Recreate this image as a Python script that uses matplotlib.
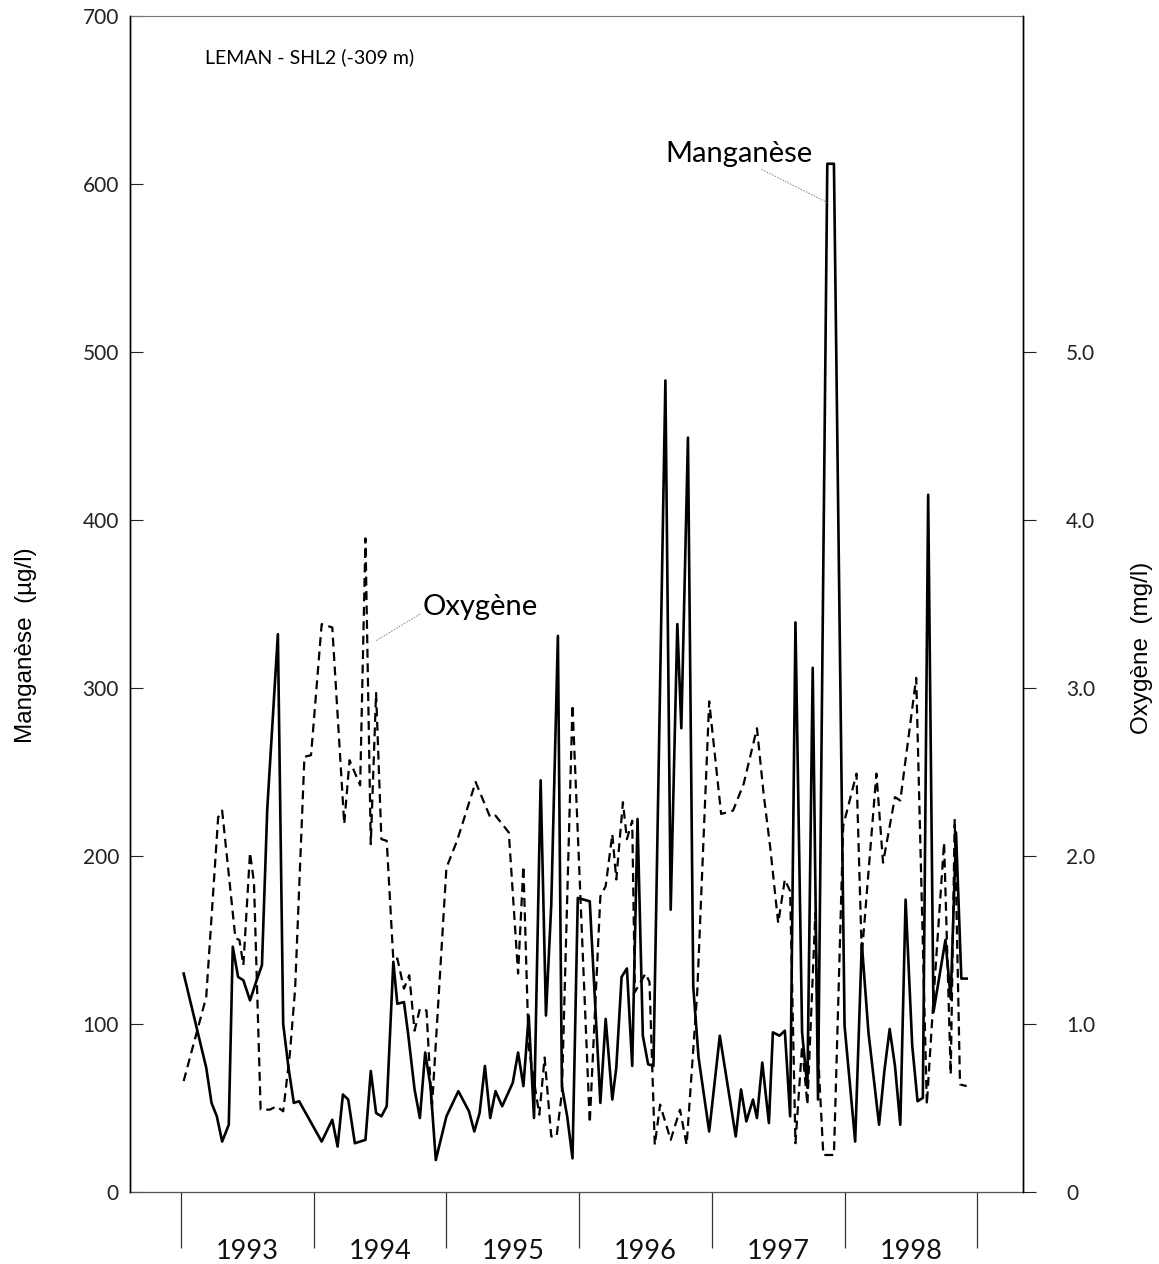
import matplotlib
matplotlib.use("Agg")
import matplotlib.pyplot as plt
import numpy as np

plt.rcParams['font.family'] = ['Lato', 'DejaVu Sans']

# Manganese (ug/l), sampling dates in decimal years
mn_time = [1993.02, 1993.19, 1993.23, 1993.27, 1993.31, 1993.36, 1993.39, 1993.43,
           1993.47, 1993.52, 1993.57, 1993.61, 1993.65, 1993.73, 1993.77, 1993.81,
           1993.85, 1993.89, 1994.06, 1994.14, 1994.18, 1994.22, 1994.26, 1994.31,
           1994.39, 1994.43, 1994.47, 1994.51, 1994.55, 1994.60, 1994.63, 1994.68,
           1994.71, 1994.76, 1994.80, 1994.84, 1994.88, 1994.92, 1995.00, 1995.09,
           1995.17, 1995.21, 1995.25, 1995.29, 1995.33, 1995.37, 1995.42, 1995.50,
           1995.54, 1995.58, 1995.62, 1995.66, 1995.71, 1995.75, 1995.79, 1995.84,
           1995.87, 1995.91, 1995.95, 1995.99, 1996.08, 1996.16, 1996.20, 1996.25,
           1996.28, 1996.32, 1996.36, 1996.40, 1996.44, 1996.48, 1996.52, 1996.56,
           1996.65, 1996.69, 1996.74, 1996.77, 1996.82, 1996.86, 1996.90, 1996.98,
           1997.06, 1997.18, 1997.22, 1997.26, 1997.31, 1997.34, 1997.38, 1997.43,
           1997.46, 1997.51, 1997.55, 1997.59, 1997.63, 1997.68, 1997.72, 1997.76,
           1997.80, 1997.87, 1997.92, 1998.00, 1998.08, 1998.13, 1998.18, 1998.26,
           1998.30, 1998.34, 1998.38, 1998.42, 1998.46, 1998.51, 1998.55, 1998.59,
           1998.63, 1998.67, 1998.76, 1998.80, 1998.84, 1998.88, 1998.92]
mn_value = [130, 74, 53, 45, 30, 40, 146, 128,
            126, 114, 126, 135, 228, 332, 100, 74,
            53, 54, 30, 43, 27, 58, 55, 29,
            31, 72, 47, 45, 51, 137, 112, 113,
            95, 61, 44, 83, 63, 19, 45, 60,
            48, 36, 47, 75, 44, 60, 51, 65,
            83, 63, 105, 44, 245, 105, 171, 331,
            63, 45, 20, 175, 173, 53, 103, 55,
            74, 128, 133, 75, 222, 93, 76, 75,
            483, 168, 338, 276, 449, 122, 80, 36,
            93, 33, 61, 42, 55, 44, 77, 41,
            95, 93, 96, 45, 339, 95, 62, 312,
            55, 612, 612, 99, 30, 148, 95, 40,
            72, 97, 75, 40, 174, 87, 54, 56,
            415, 107, 150, 115, 214, 127, 127]

# Oxygen (mg/l)
ox_time = [1993.02, 1993.19, 1993.28, 1993.31, 1993.41, 1993.44, 1993.47, 1993.52,
           1993.55, 1993.60, 1993.67, 1993.72, 1993.77, 1993.82, 1993.86, 1993.93,
           1993.98, 1994.06, 1994.14, 1994.23, 1994.27, 1994.35, 1994.39, 1994.43,
           1994.47, 1994.51, 1994.55, 1994.60, 1994.63, 1994.68, 1994.72, 1994.76,
           1994.80, 1994.85, 1994.89, 1995.00, 1995.08, 1995.22, 1995.33, 1995.37,
           1995.47, 1995.54, 1995.58, 1995.62, 1995.70, 1995.74, 1995.79, 1995.83,
           1995.87, 1995.95, 1996.08, 1996.16, 1996.20, 1996.25, 1996.28, 1996.33,
           1996.36, 1996.40, 1996.42, 1996.50, 1996.53, 1996.57, 1996.61, 1996.69,
           1996.76, 1996.81, 1996.89, 1996.98, 1997.07, 1997.16, 1997.24, 1997.34,
           1997.39, 1997.44, 1997.50, 1997.55, 1997.59, 1997.63, 1997.68, 1997.72,
           1997.78, 1997.80, 1997.84, 1997.92, 1997.99, 1998.09, 1998.13, 1998.24,
           1998.29, 1998.38, 1998.42, 1998.54, 1998.62, 1998.67, 1998.75, 1998.80,
           1998.83, 1998.87, 1998.92]
ox_value = [0.66, 1.16, 2.23, 2.27, 1.51, 1.50, 1.35, 2.02,
            1.84, 0.49, 0.49, 0.51, 0.48, 0.82, 1.21, 2.59,
            2.60, 3.38, 3.36, 2.19, 2.57, 2.42, 3.89, 2.07,
            2.97, 2.10, 2.09, 1.38, 1.39, 1.21, 1.29, 0.96,
            1.09, 1.08, 0.49, 1.93, 2.09, 2.44, 2.23, 2.24,
            2.14, 1.30, 1.94, 0.86, 0.46, 0.80, 0.33, 0.33,
            0.59, 2.90, 0.41, 1.76, 1.82, 2.13, 1.86, 2.32,
            2.10, 2.21, 1.19, 1.30, 1.25, 0.28, 0.52, 0.31,
            0.49, 0.28, 1.19, 2.92, 2.25, 2.27, 2.43, 2.76,
            2.37, 2.05, 1.60, 1.86, 1.79, 0.29, 0.87, 0.52,
            1.66, 0.83, 0.22, 0.22, 2.18, 2.49, 1.41, 2.49,
            1.96, 2.35, 2.33, 3.06, 0.52, 1.15, 2.08, 0.70,
            2.22, 0.64, 0.63]

years = [1993, 1994, 1995, 1996, 1997, 1998]
mn_ticks = [0, 100, 200, 300, 400, 500, 600, 700]
ox_ticks = [0, 1, 2, 3, 4, 5]
ox_labels = ['0', '1.0', '2.0', '3.0', '4.0', '5.0']

fig = plt.figure(figsize=(11.59, 12.64), dpi=100)
ax = fig.add_axes([0.1122, 0.0570, 0.7705, 0.9304])

ax.plot(mn_time, mn_value, color='black', lw=1.9, zorder=3)
ax.set_xlim(1992.616, 1999.345)
ax.set_ylim(0, 700)

# oxygen on the twin axis, same scale /100
ax2 = ax.twinx()
ax2.plot(ox_time, ox_value, color='black', lw=1.6, dashes=(4, 2.5), zorder=2)
ax2.set_ylim(0, 7)
ax2.set_yticks(ox_ticks)
ax2.set_yticklabels(ox_labels)
ax2.tick_params(axis='y', direction='out', length=9, width=0.8, pad=22,
                labelsize=15, colors='#222222')
ax2.set_ylabel('Oxygène  (mg/l)', family=['Liberation Sans', 'DejaVu Sans'],
               fontsize=17.5)
ax2.yaxis.label.set_verticalalignment('center')
ax2.yaxis.set_label_coords(1.133, 0.463)

ax.set_yticks(mn_ticks)
ax.tick_params(axis='y', direction='in', length=9, width=0.8, pad=8,
               labelsize=15, colors='#222222')
ax.set_ylabel('Manganèse  (µg/l)', family=['Liberation Sans', 'DejaVu Sans'],
              fontsize=17.5)
ax.yaxis.label.set_verticalalignment('center')
ax.yaxis.set_label_coords(-0.1165, 0.465)

# year separators below the axis, year names in between
bounds = [y for y in years] + [years[-1] + 1]
ax.set_xticks(bounds)
ax.set_xticklabels([''] * len(bounds))
ax.tick_params(axis='x', which='major', direction='out', length=40, width=0.9,
               color='#333333')
ax.set_xticks([y + 0.5 for y in years], minor=True)
ax.set_xticklabels([str(y) for y in years], minor=True)
ax.tick_params(axis='x', which='minor', length=0, pad=34, labelsize=19.5,
               labelcolor='#111111')

for side in ['left', 'right']:
    ax.spines[side].set_linewidth(1.0)
    ax2.spines[side].set_linewidth(1.0)
ax.spines['top'].set_color('#777777')
ax.spines['top'].set_linewidth(0.8)
ax.spines['bottom'].set_color('#555555')
ax.spines['bottom'].set_linewidth(0.9)
ax2.spines['top'].set_visible(False)
ax2.spines['bottom'].set_visible(False)

ax.text(0.084, 0.965, 'LEMAN - SHL2 (-309 m)', transform=ax.transAxes,
        fontsize=14, va='center', ha='left')

ax.annotate('Manganèse', xy=(1997.868, 589), xytext=(1996.647, 618),
            fontsize=21, va='center', ha='left',
            arrowprops=dict(arrowstyle='-', color='#888888', lw=0.7,
                            linestyle=(0, (1, 2)), shrinkA=0, shrinkB=0,
                            relpos=(0.62, 0.0)))
ax.annotate('Oxygène', xy=(1994.447, 327), xytext=(1994.82, 348),
            fontsize=21, va='center', ha='left',
            arrowprops=dict(arrowstyle='-', color='#888888', lw=0.7,
                            linestyle=(0, (1, 2)), shrinkA=0, shrinkB=2,
                            relpos=(0.0, 0.3)))

fig.savefig('out.png', dpi=100)
